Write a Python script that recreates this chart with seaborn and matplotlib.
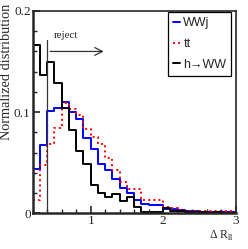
import numpy as np
import matplotlib
matplotlib.use("Agg")
import matplotlib.pyplot as plt
import matplotlib.ticker as mticker
import seaborn as sns

# ── Data ─────────────────────────────────────────────────────────────────────
BIN_EDGES = [0.2, 0.3, 0.4, 0.5, 0.6, 0.7, 0.8, 0.9, 1.0, 1.1, 1.2, 1.3, 1.4, 1.5,
             1.6, 1.7, 1.8, 1.9, 2.0, 2.1, 2.2, 2.3, 2.4, 2.5, 2.6, 2.7, 2.8, 2.9, 3.0]

wwj = [0.044, 0.068, 0.101, 0.104, 0.110, 0.100, 0.093, 0.074, 0.064, 0.049,
       0.043, 0.034, 0.025, 0.020, 0.0135, 0.0096, 0.0086, 0.0086, 0.004, 0.004,
       0.003, 0.002, 0.002, 0.001, 0.001, 0.001, 0.001, 0.001]
tt = [0.0135, 0.0475, 0.069, 0.084, 0.109, 0.103, 0.097, 0.083, 0.0755, 0.069,
      0.055, 0.043, 0.031, 0.0245, 0.0245, 0.013, 0.013, 0.013, 0.006, 0.005,
      0.003, 0.002, 0.002, 0.002, 0.002, 0.002, 0.002, 0.002]
hww = [0.166, 0.137, 0.150, 0.129, 0.104, 0.082, 0.062, 0.049, 0.028, 0.020,
       0.016, 0.019, 0.012, 0.016, 0.006, 0.001, 0.001, 0.001, 0.005, 0.002,
       0.002, 0.001, 0.001, 0.001, 0.0, 0.001, 0.0, 0.0]

SERIES = [("WWj", wwj, "#0000ff", "-"),
          ("tt", tt, "#ff0000", ":"),
          ("h\u2192WW", hww, "black", "-")]

CUT = 0.4

sns.set_style("ticks")
plt.rcParams["font.family"] = ["Liberation Serif", "DejaVu Serif"]
plt.rcParams["mathtext.fontset"] = "custom"
plt.rcParams["mathtext.rm"] = "Liberation Serif"

fig = plt.figure(figsize=(2.48, 2.49), dpi=100)
ax = fig.add_axes([0.132, 0.143, 0.818, 0.813])

centers = [(a + b) / 2 for a, b in zip(BIN_EDGES[:-1], BIN_EDGES[1:])]
for label, vals, color, ls in SERIES:
    sns.histplot(x=centers, weights=vals, bins=BIN_EDGES, element="step", fill=False,
                 color=color, linestyle=ls, linewidth=1.4, label=label, ax=ax)

# cut line and arrow
ax.plot([CUT, CUT], [0, 0.171], color="#333333", lw=0.9)
ax.annotate("", xy=(1.22, 0.160), xytext=(CUT, 0.160),
            arrowprops=dict(arrowstyle="->", color="#333333", lw=0.9,
                            mutation_scale=14))
ax.text(0.655, 0.176, "reject", ha="center", va="center", fontsize=8)

ax.set_xlim(0.2, 3.0)
ax.set_ylim(0, 0.2)
ax.set_xticks([1, 2, 3])
ax.set_yticks([0, 0.1, 0.2])
ax.xaxis.set_minor_locator(mticker.MultipleLocator(0.2))
ax.yaxis.set_minor_locator(mticker.MultipleLocator(0.02))
ax.yaxis.set_major_formatter(mticker.FuncFormatter(lambda v, p: f"{v:g}"))
ax.tick_params(which="both", direction="in", top=False, right=False,
               labelsize=9.5, pad=1.5)
ax.tick_params(which="major", length=5, width=1.2)
ax.tick_params(which="minor", length=3, width=1.0)
for side in ["left", "bottom"]:
    ax.spines[side].set_linewidth(1.8)
for side in ["top", "right"]:
    ax.spines[side].set_linewidth(1.2)
    ax.spines[side].set_visible(True)

ax.set_ylabel("Normalized distribution", fontsize=10.3)
ax.yaxis.set_label_coords(-0.097, 0.70)
ax.set_xlabel("")
ax.text(0.99, -0.075, r"$\Delta$ R$_{\rm ll}$", transform=ax.transAxes,
        ha="right", va="top", fontsize=8.5)

leg = ax.legend(loc="upper right", bbox_to_anchor=(0.985, 1.0), frameon=True,
                fancybox=False, edgecolor="black", framealpha=1,
                handlelength=0.5, handletextpad=0.3, borderpad=0.4,
                labelspacing=0.7, borderaxespad=0.1,
                prop={"family": ["Liberation Sans", "DejaVu Sans"], "size": 9})
leg.get_frame().set_linewidth(0.9)

fig.savefig("out.png", dpi=100)
